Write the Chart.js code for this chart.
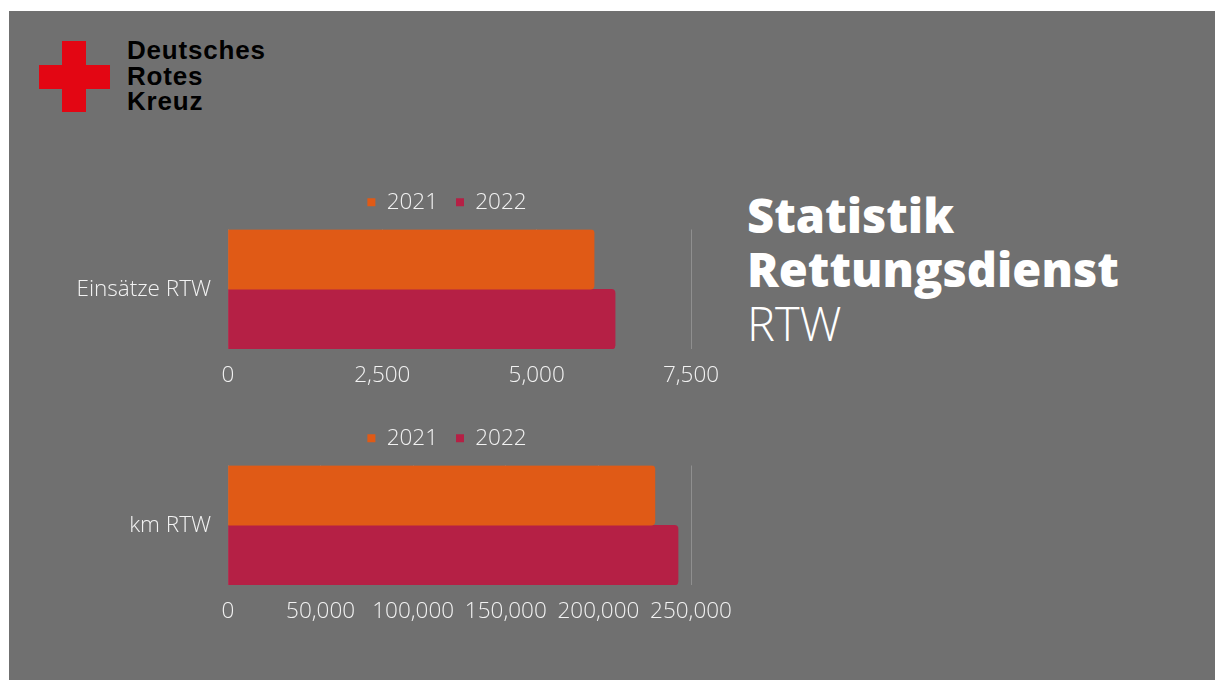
<!DOCTYPE html>
<html>
<head>
<meta charset="utf-8">
<script src="https://cdn.jsdelivr.net/npm/chart.js@4"></script>
<style>
  body { margin: 0; background: #fff; width: 1215px; height: 680px; overflow: hidden; }
  #panel { position: absolute; left: 9px; top: 11px; width: 1206px; height: 669px; background: #707070; }
  .cross-v { position: absolute; left: 62px; top: 41px; width: 24px; height: 71px; background: #e30613; }
  .cross-h { position: absolute; left: 39px; top: 65px; width: 71px; height: 24px; background: #e30613; }
  #logo-text { position: absolute; left: 127px; top: 38px; font-family: "Liberation Sans", Arial, sans-serif;
    font-weight: bold; font-size: 26px; line-height: 25.5px; color: #000; letter-spacing: 0.8px; }
  #title { position: absolute; left: 747px; top: 188px; color: #fff; font-family: "Open Sans", sans-serif; }
  #title div { line-height: 54px; height: 54px; white-space: nowrap; }
  #title .b { font-weight: 800; font-size: 47px; }
  #title .l { font-weight: 300; font-size: 47px; }
  canvas { position: absolute; }
</style>
</head>
<body>
<div id="panel"></div>
<div class="cross-v"></div>
<div class="cross-h"></div>
<div id="logo-text">Deutsches<br>Rotes<br>Kreuz</div>
<div id="title"><div class="b">Statistik</div><div class="b">Rettungsdienst</div><div class="l">RTW</div></div>
<canvas id="chart1" width="774" height="229" style="left:60px; top:173px;"></canvas>
<canvas id="chart2" width="774" height="229" style="left:60px; top:409px;"></canvas>
<script>
const seriesLabels = ['2021', '2022'];
const seriesColors = ['#e05a16', '#b52045'];

const einsaetzeCategories = ['Einsätze RTW'];
const einsaetze2021 = [5930];
const einsaetze2022 = [6270];
const einsaetzeMax = 7500;
const einsaetzeStep = 2500;

const kmCategories = ['km RTW'];
const km2021 = [230500];
const km2022 = [243000];
const kmMax = 250000;
const kmStep = 50000;

const textColor = '#f2f2f2';
const fontFamily = '"Open Sans", sans-serif';

function makeChart(id, categories, v2021, v2022, max, step) {
  const ctx = document.getElementById(id);
  return new Chart(ctx, {
    type: 'bar',
    data: {
      labels: categories,
      datasets: [
        { label: seriesLabels[0], data: v2021, backgroundColor: seriesColors[0] },
        { label: seriesLabels[1], data: v2022, backgroundColor: seriesColors[1] }
      ]
    },
    options: {
      indexAxis: 'y',
      responsive: false,
      animation: false,
      devicePixelRatio: 1,
      locale: 'en-US',
      categoryPercentage: 1,
      barPercentage: 1,
      borderRadius: 4,
      plugins: {
        legend: {
          position: 'top',
          labels: {
            color: textColor,
            boxWidth: 8,
            boxHeight: 8,
            padding: 18,
            font: { family: fontFamily, size: 22.5, weight: 300 }
          }
        },
        // empty spacer between legend and bars
        subtitle: { display: true, text: '', weight: 500, padding: 0, font: { size: 5 } },
        tooltip: { enabled: false }
      },
      scales: {
        x: {
          min: 0,
          max: max,
          ticks: {
            stepSize: step,
            color: textColor,
            padding: 13,
            font: { family: fontFamily, size: 22.5, weight: 300 }
          },
          grid: { color: 'rgba(255,255,255,0.22)', drawTicks: false },
          border: { display: false }
        },
        y: {
          ticks: {
            color: textColor,
            padding: 17,
            font: { family: fontFamily, size: 22.5, weight: 300 }
          },
          grid: { display: false, drawTicks: false },
          border: { display: false },
          afterFit: (scale) => { scale.width = 168; }
        },
        // empty right-hand axis, reserves space so the legend centres like the original
        spacer: {
          type: 'linear',
          position: 'right',
          ticks: { display: false },
          grid: { display: false, drawTicks: false },
          border: { display: false },
          afterFit: (scale) => { scale.width = 143; }
        }
      }
    }
  });
}

makeChart('chart1', einsaetzeCategories, einsaetze2021, einsaetze2022, einsaetzeMax, einsaetzeStep);
makeChart('chart2', kmCategories, km2021, km2022, kmMax, kmStep);
</script>
</body>
</html>
